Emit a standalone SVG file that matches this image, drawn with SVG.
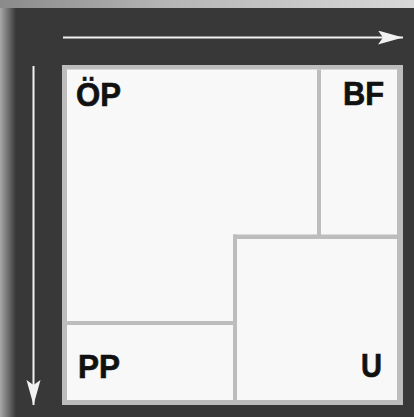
<svg xmlns="http://www.w3.org/2000/svg" width="414" height="417" viewBox="0 0 414 417">
  <defs>
    <linearGradient id="topband" x1="0" y1="0" x2="1" y2="0">
      <stop offset="0" stop-color="#8a8a8a"/>
      <stop offset="0.4" stop-color="#b5b5b5"/>
      <stop offset="1" stop-color="#d8d8d8"/>
    </linearGradient>
    <linearGradient id="leftband" x1="0" y1="0" x2="1" y2="0">
      <stop offset="0" stop-color="#a8a8a8"/>
      <stop offset="1" stop-color="#383838"/>
    </linearGradient>
    <marker id="head" markerUnits="userSpaceOnUse" markerWidth="26" markerHeight="15" refX="25" refY="7" orient="auto" viewBox="0 0 26 15">
      <path d="M0,0 L25,7 L0,14 L5,7 Z" fill="#f2f2f2"/>
    </marker>
    <style>
      .lbl { font-family: "Liberation Sans", Arial, sans-serif; font-weight: bold; font-size: 34px; fill: #111; stroke: #111; stroke-width: 0.7; }
      .div { fill: #bdbdbd; }
      .arrow { stroke: #f2f2f2; stroke-width: 2; fill: none; marker-end: url(#head); }
    </style>
  </defs>
  <rect x="0" y="0" width="414" height="417" fill="#383838"/>
  <rect x="0" y="0" width="16" height="417" fill="url(#leftband)"/>
  <rect x="0" y="0" width="414" height="8" fill="url(#topband)"/>
  <g id="panel">
    <rect x="62" y="65" width="341" height="340" fill="#bdbdbd"/>
    <rect x="67" y="69.5" width="330" height="330.5" fill="#f8f8f8"/>
    <rect class="div" x="317" y="69.5" width="4" height="169"/>
    <rect class="div" x="233" y="234.5" width="164" height="4.5"/>
    <rect class="div" x="233" y="234.5" width="4" height="165.5"/>
    <rect class="div" x="67" y="321" width="170" height="4"/>
  </g>
  <g id="node-OP"><text class="lbl" x="76" y="106" textLength="45" lengthAdjust="spacingAndGlyphs">ÖP</text></g>
  <g id="node-BF"><text class="lbl" x="343" y="105" textLength="41" lengthAdjust="spacingAndGlyphs">BF</text></g>
  <g id="node-PP"><text class="lbl" x="78" y="378" textLength="42" lengthAdjust="spacingAndGlyphs">PP</text></g>
  <g id="node-U"><text class="lbl" x="361" y="377" textLength="21" lengthAdjust="spacingAndGlyphs">U</text></g>
  <g id="connectors">
    <line class="arrow" x1="63" y1="37.5" x2="403" y2="37.5"/>
    <line class="arrow" x1="33.5" y1="66" x2="33.5" y2="405"/>
  </g>
</svg>
